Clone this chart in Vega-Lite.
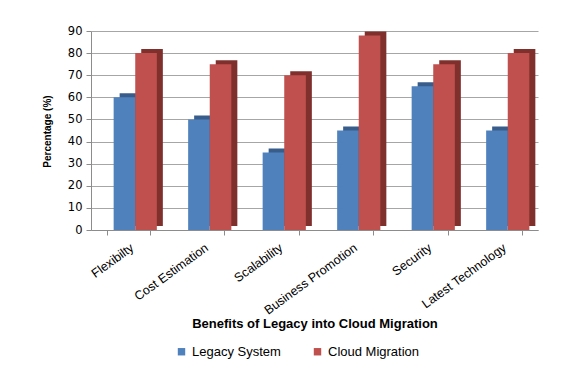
{
  "$schema": "https://vega.github.io/schema/vega-lite/v6.json",
  "width": 447,
  "height": 199,
  "autosize": "none",
  "padding": {"left": 91, "top": 31, "right": 46, "bottom": 138},
  "background": "white",
  "data": {
    "values": [
      {"benefit": "Flexibilty", "system": "Legacy System", "pct": 60},
      {"benefit": "Flexibilty", "system": "Cloud Migration", "pct": 80},
      {"benefit": "Cost Estimation", "system": "Legacy System", "pct": 50},
      {"benefit": "Cost Estimation", "system": "Cloud Migration", "pct": 75},
      {"benefit": "Scalability", "system": "Legacy System", "pct": 35},
      {"benefit": "Scalability", "system": "Cloud Migration", "pct": 70},
      {"benefit": "Business Promotion", "system": "Legacy System", "pct": 45},
      {"benefit": "Business Promotion", "system": "Cloud Migration", "pct": 88},
      {"benefit": "Security", "system": "Legacy System", "pct": 65},
      {"benefit": "Security", "system": "Cloud Migration", "pct": 75},
      {"benefit": "Latest Technology", "system": "Legacy System", "pct": 45},
      {"benefit": "Latest Technology", "system": "Cloud Migration", "pct": 80}
    ]
  },
  "encoding": {
    "x": {
      "field": "benefit",
      "type": "nominal",
      "sort": null,
      "scale": {"paddingInner": 0.42, "paddingOuter": 0.21},
      "axis": {
        "title": "Benefits of Legacy into Cloud Migration",
        "titleFont": "Liberation Sans",
        "titleFontSize": 13,
        "titleFontWeight": "bold",
        "titleColor": "#000000",
        "titleY": 93,
        "titleBaseline": "middle",
        "labelAngle": -36,
        "labelFont": "Liberation Sans",
        "labelFontSize": 12.5,
        "labelColor": "#000000",
        "labelPadding": 6,
        "tickBand": "extent",
        "tickSize": 5,
        "tickColor": "#8c8c8c",
        "domainColor": "#8c8c8c",
        "grid": false
      }
    },
    "y": {
      "field": "pct",
      "type": "quantitative",
      "scale": {"domain": [0, 90], "nice": false},
      "axis": {
        "title": "Percentage (%)",
        "titleFont": "Liberation Sans",
        "titleFontSize": 10,
        "titleFontWeight": "bold",
        "titleColor": "#000000",
        "titleX": -44,
        "titleY": 100,
        "titleBaseline": "middle",
        "titleAlign": "center",
        "titleAngle": -90,
        "values": [0, 10, 20, 30, 40, 50, 60, 70, 80, 90],
        "labelFont": "DejaVu Sans",
        "labelFontSize": 11.5,
        "labelColor": "#000000",
        "labelPadding": 4,
        "tickSize": 5,
        "tickColor": "#8c8c8c",
        "domainColor": "#8c8c8c",
        "grid": true,
        "gridColor": "#a6a6a6",
        "gridWidth": 1
      }
    }
  },
  "layer": [
    {
      "mark": {"type": "bar", "yOffset": -4},
      "encoding": {
        "xOffset": {
          "field": "system",
          "type": "nominal",
          "sort": ["Legacy System", "Cloud Migration"],
          "scale": {"range": [13, 56.2]}
        },
        "color": {
          "field": "system",
          "type": "nominal",
          "sort": ["Legacy System", "Cloud Migration"],
          "scale": {"range": ["#385d8a", "#7f2f2c"]},
          "legend": null
        }
      }
    },
    {
      "mark": {"type": "bar"},
      "encoding": {
        "xOffset": {
          "field": "system",
          "type": "nominal",
          "sort": ["Legacy System", "Cloud Migration"],
          "scale": {"range": [7, 50.2]}
        },
        "color": {
          "field": "system",
          "type": "nominal",
          "sort": ["Legacy System", "Cloud Migration"],
          "scale": {"range": ["#4f81bd", "#c0504d"]},
          "legend": {
            "title": null,
            "orient": "none",
            "direction": "horizontal",
            "legendX": 84,
            "legendY": 314,
            "symbolType": "square",
            "symbolSize": 55,
            "symbolStrokeWidth": 0,
            "labelFont": "Liberation Sans",
            "labelFontSize": 13,
            "labelColor": "#000000",
            "columnPadding": 30
          }
        }
      }
    }
  ],
  "resolve": {"scale": {"color": "independent", "xOffset": "independent"}},
  "config": {"view": {"stroke": null}}
}
